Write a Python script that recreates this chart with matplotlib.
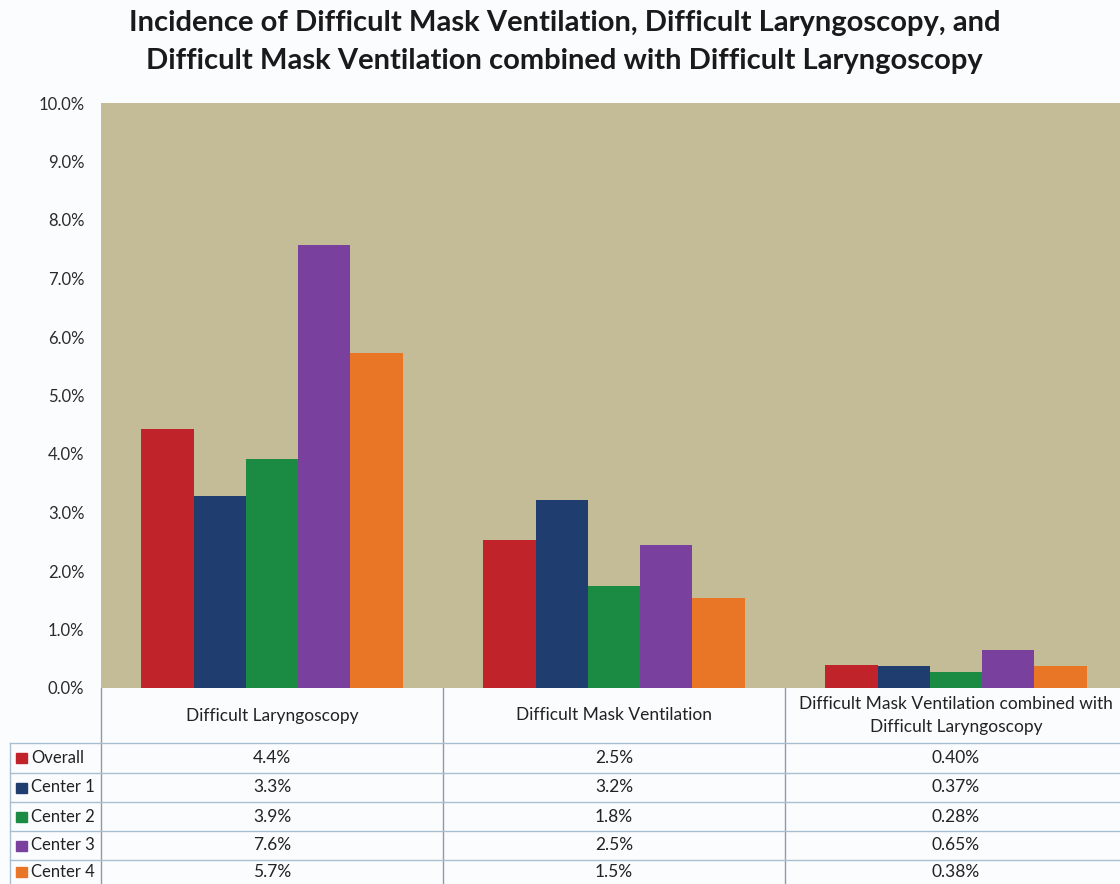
import matplotlib.pyplot as plt
import numpy as np

plt.rcParams['font.family'] = ['Lato', 'DejaVu Sans']

# --- data ---
categories = ['Difficult Laryngoscopy', 'Difficult Mask Ventilation',
              'Difficult Mask Ventilation combined with\nDifficult Laryngoscopy']
series = ['Overall', 'Center 1', 'Center 2', 'Center 3', 'Center 4']
colors = ['#c1232b', '#1f3e6f', '#1b8b44', '#7a409e', '#e97527']

overall = [4.43, 2.53, 0.40]
center1 = [3.28, 3.21, 0.37]
center2 = [3.91, 1.75, 0.28]
center3 = [7.57, 2.45, 0.65]
center4 = [5.72, 1.53, 0.38]
values = [overall, center1, center2, center3, center4]

table_text = [
    ['4.4%', '2.5%', '0.40%'],
    ['3.3%', '3.2%', '0.37%'],
    ['3.9%', '1.8%', '0.28%'],
    ['7.6%', '2.5%', '0.65%'],
    ['5.7%', '1.5%', '0.38%'],
]
yticks = np.arange(0, 11, 1)

W, H = 1120, 884
fig = plt.figure(figsize=(W / 100, H / 100), dpi=100)
fig.patch.set_facecolor('#fbfcfe')

# plot area in pixel coords
px_l, px_r, px_t, px_b = 101, 1120, 103, 688
cat_w = 342  # pixels per category
ax = fig.add_axes([px_l / W, 1 - px_b / H, (px_r - px_l) / W, (px_b - px_t) / H])
ax.set_facecolor('#c4bc97')

x = np.arange(len(categories))
bw = 0.153
for i, (name, vals) in enumerate(zip(series, values)):
    ax.bar(x + (i - 2) * bw, vals, width=bw, color=colors[i], label=name, zorder=2)

ax.set_xlim(-0.5, -0.5 + (px_r - px_l) / cat_w)
ax.set_ylim(0, 10)
ax.set_yticks(yticks)
ax.set_yticklabels([f'{v:.1f}%' for v in yticks], fontsize=12, color='#2b2b2b')
ax.set_xticks([])
ax.tick_params(axis='y', length=0, pad=12)
for s in ax.spines.values():
    s.set_visible(False)

fig.text(0.504, 1 - 23 / H, 'Incidence of Difficult Mask Ventilation, Difficult Laryngoscopy, and',
         ha='center', va='center', fontsize=21, fontweight='bold', color='#1a1a1a')
fig.text(0.504, 1 - 61 / H, 'Difficult Mask Ventilation combined with Difficult Laryngoscopy',
         ha='center', va='center', fontsize=21, fontweight='bold', color='#1a1a1a')

# --- data table below the plot ---
tb = fig.add_axes([0, 0, 1, (H - px_b) / H])
tb.set_xlim(0, W)
tb.set_ylim(H, px_b)
tb.axis('off')

col_edges = [px_l, px_l + cat_w, px_l + 2 * cat_w, px_r]
col_centers = [px_l + cat_w * (j + 0.5) for j in range(3)]
row_edges = [743, 773, 802, 831, 860, H]
line_c = '#a9bfcf'
vline_c = '#8f9aa3'

for ce in col_edges[:-1]:
    tb.plot([ce, ce], [px_b, H], color=vline_c, lw=1)
tb.plot([10, 10], [row_edges[0], H], color=line_c, lw=1)
for re in row_edges[:-1]:
    tb.plot([10, px_r], [re, re], color=line_c, lw=1)

for j, cat in enumerate(categories):
    tb.text(col_centers[j], (px_b + row_edges[0]) / 2, cat, ha='center', va='center',
            fontsize=12.5, color='#222222', linespacing=1.55)

for i, name in enumerate(series):
    cy = (row_edges[i] + row_edges[i + 1]) / 2
    tb.add_patch(plt.Rectangle((16, cy - 5), 11, 10, color=colors[i]))
    tb.text(31, cy, name, ha='left', va='center', fontsize=12, color='#222222')
    for j in range(len(categories)):
        tb.text(col_centers[j], cy, table_text[i][j], ha='center', va='center',
                fontsize=12.5, color='#222222')

fig.savefig('out.png', dpi=100, facecolor=fig.get_facecolor())
